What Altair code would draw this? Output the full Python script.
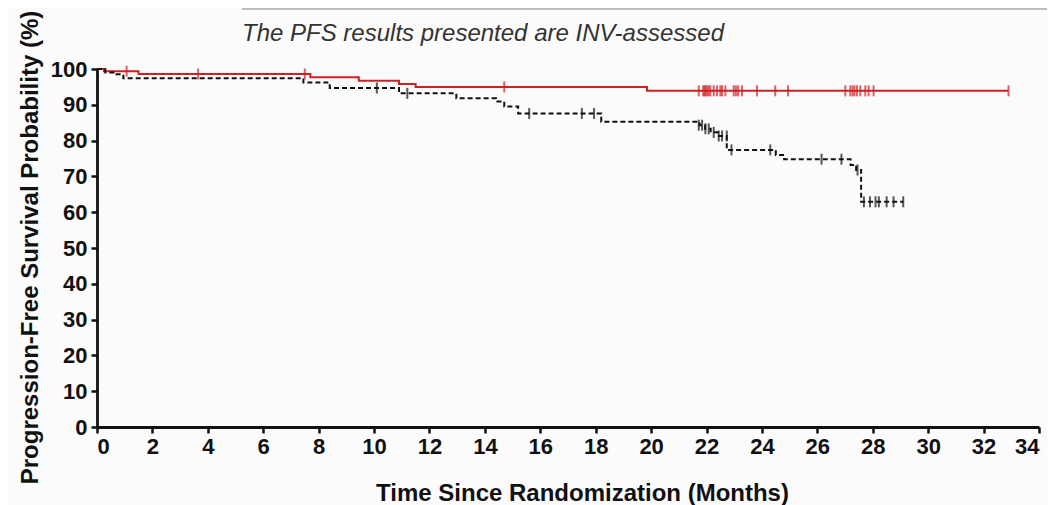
import altair as alt
import pandas as pd

# Kaplan-Meier step data (time in months, survival %)
red_t = [0, 0.25, 1.5, 7.7, 9.45, 10.9, 11.5, 19.85, 32.9]
red_s = [100, 99.4, 98.6, 97.7, 96.7, 95.8, 95.0, 93.9, 93.9]

black_t = [0, 0.3, 0.7, 0.95, 7.45, 8.4, 10.9, 12.97, 14.4, 14.7, 15.2, 18.2,
           21.75, 21.95, 22.15, 22.4, 22.73, 24.5, 24.8, 27.2, 27.4, 27.58, 29.1]
black_s = [100, 99.0, 98.5, 97.4, 96.2, 94.7, 93.2, 91.8, 90.9, 89.5, 87.6, 85.3,
           84.3, 83.3, 82.3, 81.3, 77.4, 76.0, 74.8, 73.2, 71.8, 62.9, 62.9]

# Censoring marks
red_ct = [1.07, 3.65, 7.5, 14.7, 21.72, 21.88, 21.93, 21.96, 22.02, 22.08, 22.14,
          22.26, 22.38, 22.50, 22.56, 22.68, 22.98, 23.06, 23.14, 23.28, 23.82,
          24.48, 24.94, 27.01, 27.19, 27.27, 27.34, 27.43, 27.55, 27.73, 27.85,
          28.03, 32.9]
red_cs = [99.4, 98.6, 98.6, 95.0] + [93.9] * 29

black_ct = [10.1, 11.2, 15.6, 17.5, 17.94, 21.72, 21.84, 21.96, 22.08, 22.26,
            22.44, 22.56, 22.73, 22.9, 24.3, 26.15, 26.87, 27.45, 27.68, 27.9,
            28.1, 28.22, 28.5, 28.75, 29.1]
black_cs = [94.7, 93.2, 87.6, 87.6, 87.6, 84.3, 84.3, 83.3, 83.3, 82.3,
            81.3, 81.3, 81.3, 77.4, 77.4, 74.8, 74.8, 71.8, 62.9, 62.9,
            62.9, 62.9, 62.9, 62.9, 62.9]

x_ticks = list(range(0, 35, 2))
y_ticks = list(range(0, 101, 10))

FONT = "Liberation Sans, Arial, Helvetica, sans-serif"

lines = pd.DataFrame(
    {"t": red_t + black_t, "s": red_s + black_s,
     "arm": ["red"] * len(red_t) + ["black"] * len(black_t)}
)
cens = pd.DataFrame(
    {"t": red_ct + black_ct, "s": red_cs + black_cs,
     "arm": ["red"] * len(red_ct) + ["black"] * len(black_ct)}
)

xscale = alt.Scale(domain=[0, 34], nice=False, zero=False)
yscale = alt.Scale(domain=[0, 100], nice=False)
cscale = alt.Scale(domain=["red", "black"], range=["#cf2024", "#111111"])

xaxis = alt.Axis(
    values=x_ticks, title="Time Since Randomization (Months)", grid=False,
    labelFont=FONT, labelFontSize=22, labelFontWeight="bold", labelColor="#111",
    labelPadding=3, labelOverlap=False, tickSize=6, tickWidth=2.5, tickColor="#111",
    domainColor="#111", domainWidth=2.8,
    titleFont=FONT, titleFontSize=24, titleFontWeight="bold", titleColor="#111",
    titleX=485, titleY=73, titleAlign="center", titleBaseline="alphabetic",
)
yaxis = alt.Axis(
    values=y_ticks, tickCount=11, title="Progression-Free Survival Probability (%)", grid=False,
    labelFont=FONT, labelFontSize=22, labelFontWeight="bold", labelColor="#111",
    labelPadding=4, labelOverlap=False, tickSize=6, tickWidth=2.5, tickColor="#111",
    domainColor="#111", domainWidth=2.8,
    titleFont=FONT, titleFontSize=24, titleFontWeight="bold", titleColor="#111",
    titleX=-67, titleY=178, titleAngle=270, titleAlign="center",
    titleBaseline="middle",
)

line_layer = alt.Chart(lines).mark_line(interpolate="step-after", strokeWidth=2).encode(
    x=alt.X("t:Q", scale=xscale, axis=xaxis),
    y=alt.Y("s:Q", scale=yscale, axis=yaxis),
    color=alt.Color("arm:N", scale=cscale, legend=None),
    strokeDash=alt.StrokeDash(
        "arm:N", scale=alt.Scale(domain=["red", "black"], range=[[1, 0], [5, 3]]),
        legend=None),
)

tick_layer = alt.Chart(cens).mark_tick(orient="vertical", size=11, thickness=2).encode(
    x=alt.X("t:Q", scale=xscale, axis=xaxis),
    y=alt.Y("s:Q", scale=yscale, axis=yaxis),
    color=alt.Color("arm:N", scale=cscale, legend=None),
)

subtitle = alt.Chart(pd.DataFrame({"txt": ["The PFS results presented are INV-assessed"]})).mark_text(
    align="left", baseline="alphabetic", font=FONT, fontSize=24, fontStyle="italic",
    color="#333333",
).encode(x=alt.value(145), y=alt.value(-28), text="txt:N")

top_rule = alt.Chart(pd.DataFrame({"a": [0]})).mark_rule(color="#aaaaaa", strokeWidth=1.5).encode(
    x=alt.value(145), x2=alt.value(970), y=alt.value(-60)
)

chart = alt.layer(line_layer, tick_layer, subtitle, top_rule).properties(
    width=942, height=358,
    autosize=alt.AutoSizeParams(type="none"),
    padding={"left": 89, "top": 61, "right": 8, "bottom": 88},
    background="#fbfbfb",
).configure_view(stroke=None)

chart.save("out.html", embed_options={"renderer": "svg", "actions": False})
